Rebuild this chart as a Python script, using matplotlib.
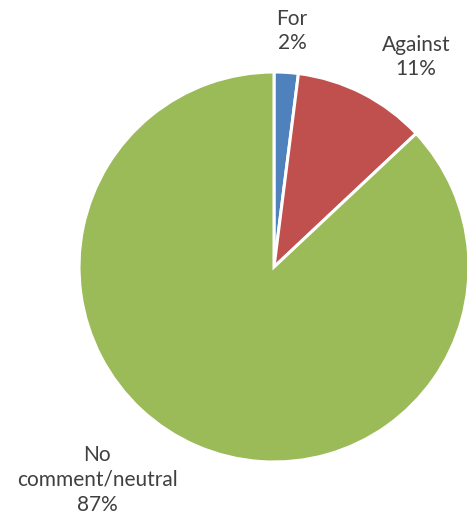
import matplotlib
matplotlib.use("Agg")
import matplotlib.pyplot as plt

categories = ["For", "Against", "No\ncomment/neutral"]
shares = [2, 11, 87]
colors = ["#4F81BD", "#C0504D", "#9BBB59"]

W, H = 467, 525
fig = plt.figure(figsize=(W / 100, H / 100), dpi=100)
ax = fig.add_axes([0, 0, 1, 1])

cx, cy, r = 274, 258, 195
ax.pie(shares, colors=colors, startangle=90, counterclock=False,
       center=(cx, cy), radius=r, frame=True,
       wedgeprops=dict(edgecolor="white", linewidth=2.2))
ax.set_xlim(0, W)
ax.set_ylim(0, H)
ax.set_aspect("equal")
ax.axis("off")

label_pos = [(292, 494), (416, 468), (97, 45)]
for name, val, (x, y) in zip(categories, shares, label_pos):
    ax.text(x, y, f"{name}\n{val}%", ha="center", va="center",
            fontsize=15, family="Lato", color="#404040", linespacing=1.3)

fig.savefig("out.png", dpi=100)
